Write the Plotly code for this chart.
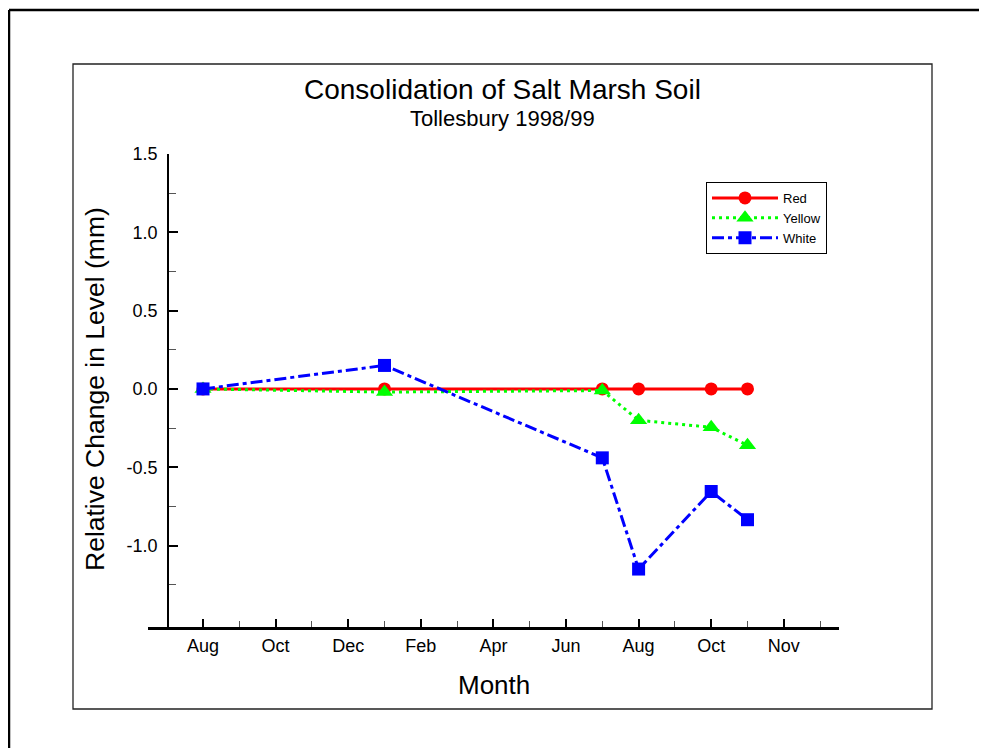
import plotly.graph_objects as go

# ---- data ----
months = [0, 5, 11, 12, 14, 15]          # months since Aug 1998
red = [0.0, 0.0, 0.0, 0.0, 0.0, 0.0]
yellow = [0.0, -0.02, -0.01, -0.20, -0.245, -0.36]
white = [0.0, 0.15, -0.44, -1.15, -0.655, -0.835]

tick_months = [0, 2, 4, 6, 8, 10, 12, 14, 16]
tick_labels = ["Aug", "Oct", "Dec", "Feb", "Apr", "Jun", "Aug", "Oct", "Nov"]
minor_months = [1, 3, 5, 7, 9, 11, 13, 15, 17]
y_ticks = [-1.0, -0.5, 0.0, 0.5, 1.0, 1.5]
y_labels = ["-1.0", "-0.5", "0.0", "0.5", "1.0", "1.5"]
y_minor = [-1.25, -0.75, -0.25, 0.25, 0.75, 1.25]

FONT = "Liberation Sans, Arial, sans-serif"
OFF = 8                      # default page body margin
W, H = 987 - 2 * OFF, 756 - 2 * OFF
# plot area in page pixels
PL, PR, PT, PB = 148, 839, 154, 627
PW, PH = PR - PL, PB - PT


def px(x):
    return (x - PL) / PW


def py(y):
    return (PB - y) / PH


fig = go.Figure()
fig.add_trace(go.Scatter(
    x=months, y=red, name="Red", mode="lines+markers",
    line=dict(color="#FF0000", width=3),
    marker=dict(symbol="circle", size=13, color="#FF0000", line=dict(width=0)),
))
fig.add_trace(go.Scatter(
    x=months, y=yellow, name="Yellow", mode="lines+markers",
    line=dict(color="#00FF00", width=3, dash="3px,4px"),
    marker=dict(symbol="triangle-up", size=15, color="#00FF00", line=dict(width=0)),
))
fig.add_trace(go.Scatter(
    x=months, y=white, name="White", mode="lines+markers",
    line=dict(color="#0000FF", width=3, dash="12px,4px,4px,4px"),
    marker=dict(symbol="square", size=13, color="#0000FF", line=dict(width=0)),
))

RIGHT_EDGE = OFF + W        # figure right edge in page pixels
BOTTOM_EDGE = OFF + H       # figure bottom edge in page pixels
shapes = [
    dict(type="line", xref="paper", yref="paper", x0=px(9), x1=px(RIGHT_EDGE), y0=py(10), y1=py(10),
         line=dict(color="black", width=2.5)),
    dict(type="line", xref="paper", yref="paper", x0=px(9), x1=px(9), y0=py(10), y1=py(BOTTOM_EDGE),
         line=dict(color="black", width=2.5)),
    dict(type="rect", xref="paper", yref="paper", x0=px(73), x1=px(932), y0=py(64), y1=py(709),
         line=dict(color="#222222", width=1.3)),
]

annotations = [
    dict(text="Consolidation of Salt Marsh Soil", xref="paper", yref="paper",
         x=px(502), y=py(89), xanchor="center", yanchor="middle", showarrow=False,
         font=dict(family=FONT, size=28, color="black")),
    dict(text="Tollesbury 1998/99", xref="paper", yref="paper",
         x=px(502), y=py(118), xanchor="center", yanchor="middle", showarrow=False,
         font=dict(family=FONT, size=22, color="black")),
    dict(text="Relative Change in Level (mm)", xref="paper", yref="paper",
         x=px(95), y=py(389), xanchor="center", yanchor="middle", showarrow=False,
         textangle=-90, font=dict(family=FONT, size=26.5, color="black")),
    dict(text="Month", xref="paper", yref="paper",
         x=px(494), y=py(685), xanchor="center", yanchor="middle", showarrow=False,
         font=dict(family=FONT, size=26, color="black")),
]

fig.update_layout(
    width=W, height=H,
    margin=dict(l=PL - OFF, r=(W + OFF) - PR, t=PT - OFF, b=(H + OFF) - PB, pad=0),
    paper_bgcolor="white", plot_bgcolor="white",
    font=dict(family=FONT, color="black"),
    showlegend=True,
    legend=dict(
        x=px(706), y=py(182), xanchor="left", yanchor="top",
        bordercolor="black", borderwidth=1, bgcolor="white",
        font=dict(family=FONT, size=13, color="black"),
        itemwidth=66, tracegroupgap=0,
    ),
    shapes=shapes,
    annotations=annotations,
    xaxis=dict(
        range=[(PL - 203) / 36.3, (PR - 203) / 36.3],
        showgrid=False, zeroline=False,
        showline=True, linecolor="black", linewidth=2.5,
        ticks="inside", ticklen=8, tickwidth=1.5, tickcolor="black",
        tickvals=tick_months, ticktext=tick_labels,
        tickfont=dict(family=FONT, size=18, color="black"),
        ticklabelstandoff=1,
        minor=dict(tickvals=minor_months, ticks="inside", ticklen=6, tickwidth=1, tickcolor="#555555"),
        fixedrange=True,
    ),
    yaxis=dict(
        range=[-1.52, 1.5],
        anchor="free", position=px(168),
        showgrid=False, zeroline=False,
        showline=True, linecolor="black", linewidth=1.5,
        ticks="inside", ticklen=9, tickwidth=1.5, tickcolor="black",
        tickvals=y_ticks, ticktext=y_labels,
        tickfont=dict(family=FONT, size=18, color="black"),
        ticklabelstandoff=6,
        minor=dict(tickvals=y_minor, ticks="inside", ticklen=7, tickwidth=1, tickcolor="#555555"),
        fixedrange=True,
    ),
)

fig.write_html("out.html")
